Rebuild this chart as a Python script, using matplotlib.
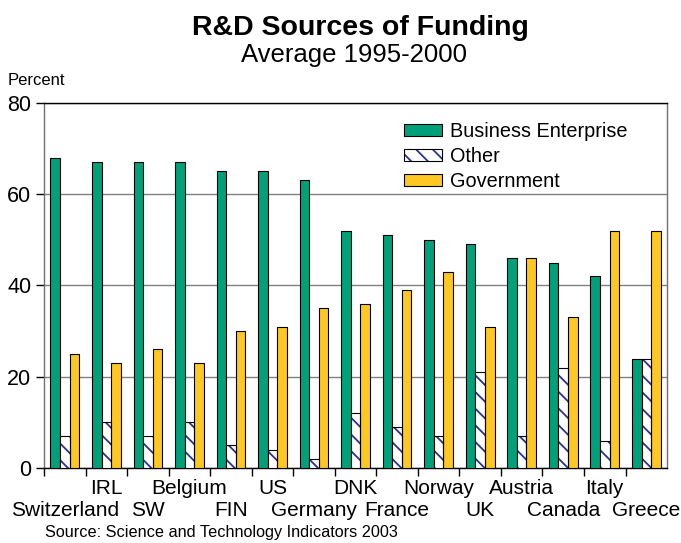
import numpy as np
import matplotlib
matplotlib.use("Agg")
import matplotlib.pyplot as plt
from matplotlib.patches import Patch
from matplotlib.legend_handler import HandlerTuple

plt.rcParams['font.family'] = ['Liberation Sans', 'DejaVu Sans']
plt.rcParams['hatch.linewidth'] = 1.3

# data
countries = ["Switzerland", "IRL", "SW", "Belgium", "FIN", "US", "Germany", "DNK",
             "France", "Norway", "UK", "Austria", "Canada", "Italy", "Greece"]
business = [68, 67, 67, 67, 65, 65, 63, 52, 51, 50, 49, 46, 45, 42, 24]
other = [7, 10, 7, 10, 5, 4, 2, 12, 9, 7, 21, 7, 22, 6, 24]
government = [25, 23, 26, 23, 30, 31, 35, 36, 39, 43, 31, 46, 33, 52, 52]

green = '#00a07a'
gold = '#ffc722'
navy = '#2e3192'

fig = plt.figure(figsize=(6.81, 5.43), dpi=100)
ax = fig.add_axes([0.0646, 0.138, 0.915, 0.6725])

x = np.arange(len(countries)) + 0.5
w = 0.23

ax.bar(x - w, business, w, color=green, edgecolor='black', linewidth=0.8, zorder=3)
# hatched bars: hatch drawn in navy, then a black outline on top
ax.bar(x, other, w, color='white', edgecolor=navy, linewidth=0, hatch='\\\\', zorder=3)
ax.bar(x, other, w, fill=False, edgecolor='black', linewidth=0.8, zorder=4)
ax.bar(x + w, government, w, color=gold, edgecolor='black', linewidth=0.8, zorder=3)

ax.set_xlim(0, len(countries))
ax.set_ylim(0, 80)
ax.set_yticks([0, 20, 40, 60, 80])
ax.tick_params(axis='y', labelsize=15.5, length=6, width=1, direction='out', pad=3)
ax.yaxis.grid(True, color='#808080', linewidth=1)
ax.set_axisbelow(True)

# tick marks between groups; names sit on two alternating rows below
ax.set_xticks(np.arange(len(countries)))
ax.set_xticklabels([])
ax.tick_params(axis='x', length=6, width=1, direction='out')
trans = ax.get_xaxis_transform()
for i, name in enumerate(countries):
    row_y = -42 / 365 if i % 2 == 0 else -20 / 365
    ax.text(x[i], row_y, name, transform=trans, ha='center', va='center',
            fontsize=15, clip_on=False)

for side in ['left', 'right']:
    ax.spines[side].set_color('#707070')
ax.spines['top'].set_color('black')
ax.spines['bottom'].set_color('black')
for s in ax.spines.values():
    s.set_linewidth(1)

h_bus = Patch(facecolor=green, edgecolor='black', linewidth=0.8)
h_oth = (Patch(facecolor='white', edgecolor=navy, linewidth=0, hatch='\\\\'),
         Patch(fill=False, edgecolor='black', linewidth=0.8))
h_gov = Patch(facecolor=gold, edgecolor='black', linewidth=0.8)
ax.legend([h_bus, h_oth, h_gov], ["Business Enterprise", "Other", "Government"],
          handler_map={tuple: HandlerTuple(ndivide=1)},
          loc='upper left', bbox_to_anchor=(404 / 681, 1 - 122 / 543),
          bbox_transform=fig.transFigure, frameon=False, fontsize=14.3,
          handlelength=1.9, handleheight=0.6, handletextpad=0.4,
          labelspacing=0.3, borderaxespad=0, borderpad=0)

fig.text(0.529, 1 - 28 / 543, "R&D Sources of Funding", ha='center', va='center',
         fontsize=20.5, fontweight='bold')
fig.text(0.52, 1 - 55 / 543, "Average 1995-2000", ha='center', va='center', fontsize=18.5)
fig.text(8 / 681, 1 - 80 / 543, "Percent", ha='left', va='center', fontsize=12)
fig.text(45 / 681, 1 - 533 / 543, "Source: Science and Technology Indicators 2003",
         ha='left', va='center', fontsize=11.7)

fig.savefig("out.png", dpi=100)
